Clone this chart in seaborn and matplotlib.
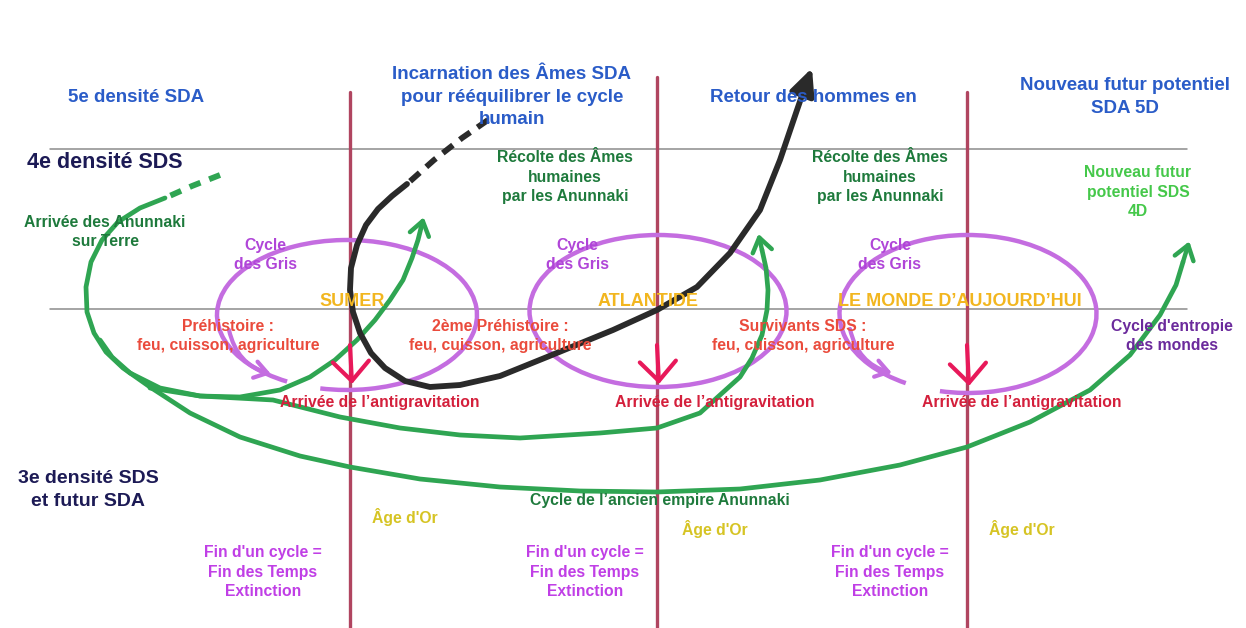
import matplotlib
matplotlib.use("Agg")
import matplotlib.pyplot as plt
import seaborn as sns
from matplotlib.patches import Arc

# repères du dessin (pixels de l'image d'origine, y vers le bas)
cycle_x = [350, 657, 967]
cycle_top = [92, 77, 92]
density_y = [149, 309]
density_x = [50, 1187]

# cycles des Gris : centre, largeur, hauteur
gris_cx = [347, 658, 968]
gris_cy = [315, 311, 314]
gris_w = [260, 257, 257]
gris_h = [150, 152, 158]

# flèches de l'antigravitation
anti_top = [345, 345, 345]
anti_tip = [384, 384, 386]

# courbe noire (âmes SDA)
black_dash_x = [488, 462, 434, 407]
black_dash_y = [120, 138, 160, 184]
black_x = [407, 392, 378, 366, 357, 351, 350, 353, 360, 371, 385, 405, 430, 460, 500, 547, 613, 657,
           697, 730, 760, 780, 797, 806]
black_y = [184, 196, 209, 225, 245, 268, 290, 312, 333, 353, 368, 381, 387, 385, 376, 357, 330, 310,
           287, 253, 210, 160, 110, 84]

# courbes vertes (Anunnaki)
green_dash_x = [220, 192, 165]
green_dash_y = [175, 186, 198]
green_main_x = [165, 140, 118, 102, 91, 86, 87, 94, 106, 123, 150, 190, 240, 300, 350, 420, 500, 580,
                657, 740, 820, 900, 967, 1030, 1090, 1130, 1160, 1176, 1183]
green_main_y = [198, 208, 222, 240, 262, 287, 312, 333, 352, 368, 387, 413, 437, 456, 467, 479, 487,
                491, 492, 489, 480, 465, 447, 422, 390, 355, 315, 285, 262]
green_sumer_x = [100, 112, 130, 160, 200, 240, 280, 310, 335, 357, 375, 390, 403, 412, 418, 421]
green_sumer_y = [340, 357, 373, 388, 396, 397, 390, 377, 360, 340, 320, 300, 280, 258, 240, 228]
green_atl_x = [150, 200, 273, 340, 400, 460, 520, 600, 657, 700, 740, 752, 762, 767, 768, 766, 762]
green_atl_y = [388, 396, 400, 417, 428, 435, 438, 433, 428, 413, 377, 358, 335, 310, 290, 268, 250]

# textes
top_labels = ["5e densité SDA", "Incarnation des Âmes SDA\npour rééquilibrer le cycle\nhumain",
              "Retour des hommes en", "Nouveau futur potentiel\nSDA 5D"]
top_x = [136, 512, 813, 1125]
top_y = [97, 97, 97, 97]

recolte_x = [565, 880]
gris_label_x = [265, 577, 890]
cycle_names = ["SUMER", "ATLANTIDE", "LE MONDE D’AUJOURD’HUI"]
cycle_name_x = [352, 648, 960]
prehistory = ["Préhistoire :\nfeu, cuisson, agriculture",
              "2ème Préhistoire :\nfeu, cuisson, agriculture",
              "Survivants SDS :\nfeu, cuisson, agriculture"]
prehistory_x = [228, 500, 803]
antigrav_x = [380, 715, 1022]
age_x = [405, 715, 1022]
age_y = [517, 529, 529]
fin_x = [263, 585, 890]

sns.set_theme(style="white")
plt.rcParams["font.family"] = ["Liberation Sans", "DejaVu Sans"]
plt.rcParams["font.weight"] = "bold"

fig = plt.figure(figsize=(12.46, 6.28), dpi=100)
ax = fig.add_axes([0, 0, 1, 1])
ax.set_xlim(0, 1246)
ax.set_ylim(628, 0)
ax.axis("off")


def trait(xs, ys, **kw):
    sns.lineplot(x=xs, y=ys, sort=False, estimator=None, ax=ax, **kw)


# lignes de densité
for y in density_y:
    trait(density_x, [y, y], color="#8c8c8c", lw=1.1, zorder=1)

# lignes de fin de cycle
for x, top in zip(cycle_x, cycle_top):
    trait([x, x], [top, 628], color="#b04560", lw=2.4, zorder=2)

# cycles des Gris
purple = "#c46de0"
for i in range(3):
    t1, t2 = (132, 470) if i != 1 else (0, 360)
    ax.add_patch(Arc((gris_cx[i], gris_cy[i]), gris_w[i], gris_h[i], theta1=t1, theta2=t2,
                     color=purple, lw=3.2, zorder=3))
for i in [0, 2]:
    ax.annotate("", xy=(gris_cx[i] - 76, gris_cy[i] + 59), xytext=(gris_cx[i] - 118, gris_cy[i] + 15),
                arrowprops=dict(arrowstyle="->,head_length=0.9,head_width=0.6", color=purple, lw=3,
                                shrinkA=0, shrinkB=0, mutation_scale=10,
                                connectionstyle="arc3,rad=0.3"), zorder=3)

# flèches antigravitation
for x, a, b in zip(cycle_x, anti_top, anti_tip):
    ax.annotate("", xy=(x + 2, b), xytext=(x, a),
                arrowprops=dict(arrowstyle="->,head_length=1.4,head_width=1.3", color="#e8195a", lw=3,
                                shrinkA=0, shrinkB=0, mutation_scale=10), zorder=6)

# courbes vertes
green = "#2fa552"
trait(green_dash_x, green_dash_y, color=green, lw=4.2, linestyle=(0, (2, 1.6)), zorder=4)
for gx, gy in [(green_main_x, green_main_y), (green_sumer_x, green_sumer_y), (green_atl_x, green_atl_y)]:
    trait(gx, gy, color=green, lw=3.4, zorder=4, solid_joinstyle="round", solid_capstyle="round")
    ax.annotate("", xy=(gx[-1] + (gx[-1] - gx[-2]) * 0.9, gy[-1] + (gy[-1] - gy[-2]) * 0.9),
                xytext=(gx[-1], gy[-1]),
                arrowprops=dict(arrowstyle="->,head_length=1.0,head_width=0.7", color=green, lw=3.2,
                                shrinkA=0, shrinkB=0, mutation_scale=10), zorder=4)

# courbe noire
black = "#2a2a2a"
trait(black_dash_x, black_dash_y, color=black, lw=4.2, linestyle=(0, (2.2, 1.5)), zorder=5)
trait(black_x, black_y, color=black, lw=4.2, zorder=5, solid_joinstyle="round", solid_capstyle="round")
ax.annotate("", xy=(812, 68), xytext=(black_x[-1], black_y[-1]),
            arrowprops=dict(arrowstyle="-|>,head_length=1.6,head_width=0.75", color=black, lw=4,
                            shrinkA=0, shrinkB=0, mutation_scale=10), zorder=5)

# textes
blue = "#2a5cc8"
for s, x, y in zip(top_labels, top_x, top_y):
    ax.text(x, y, s, color=blue, fontsize=13.5, ha="center", va="center", linespacing=1.4, zorder=8)

navy = "#1c1a55"
ax.text(105, 162, "4e densité SDS", color=navy, fontsize=15.5, ha="center", va="center", zorder=8)
ax.text(88, 490, "3e densité SDS\net futur SDA", color=navy, fontsize=14, ha="center", va="center",
        linespacing=1.4, zorder=8)

ls = 1.4
dgreen = "#1e7a3c"
ax.text(105, 232, "Arrivée des Anunnaki\nsur Terre", color=dgreen, fontsize=11.3, ha="center",
        va="center", linespacing=ls, zorder=8)
for x in recolte_x:
    ax.text(x, 177, "Récolte des Âmes\nhumaines\npar les Anunnaki", color=dgreen, fontsize=11.3,
            ha="center", va="center", linespacing=ls, zorder=8)
ax.text(1138, 192, "Nouveau futur\npotentiel SDS\n4D", color="#45c84a", fontsize=11.3, ha="center",
        va="center", linespacing=ls, zorder=8)
ax.text(660, 500, "Cycle de l’ancien empire Anunnaki", color=dgreen, fontsize=11.3, ha="center",
        va="center", zorder=8)

for x in gris_label_x:
    ax.text(x, 255, "Cycle\ndes Gris", color="#b045d8", fontsize=11.3, ha="center", va="center",
            linespacing=ls, zorder=8)
for s, x in zip(cycle_names, cycle_name_x):
    ax.text(x, 302, s, color="#f2b61f", fontsize=13, ha="center", va="center", zorder=8)
for s, x in zip(prehistory, prehistory_x):
    ax.text(x, 336, s, color="#ea4b3c", fontsize=11.3, ha="center", va="center", linespacing=ls, zorder=8)
ax.text(1172, 336, "Cycle d'entropie\ndes mondes", color="#6b2a9c", fontsize=11.3, ha="center",
        va="center", linespacing=ls, zorder=8)
for x in antigrav_x:
    ax.text(x, 402, "Arrivée de l’antigravitation", color="#d4203c", fontsize=11.3, ha="center",
            va="center", zorder=8)
for x, y in zip(age_x, age_y):
    ax.text(x, y, "Âge d'Or", color="#d6c424", fontsize=11.3, ha="center", va="center", zorder=8)
for x in fin_x:
    ax.text(x, 572, "Fin d'un cycle =\nFin des Temps\nExtinction", color="#c03fe6", fontsize=11.3,
            ha="center", va="center", linespacing=ls, zorder=8)

fig.savefig("out.png", dpi=100, facecolor="white")
